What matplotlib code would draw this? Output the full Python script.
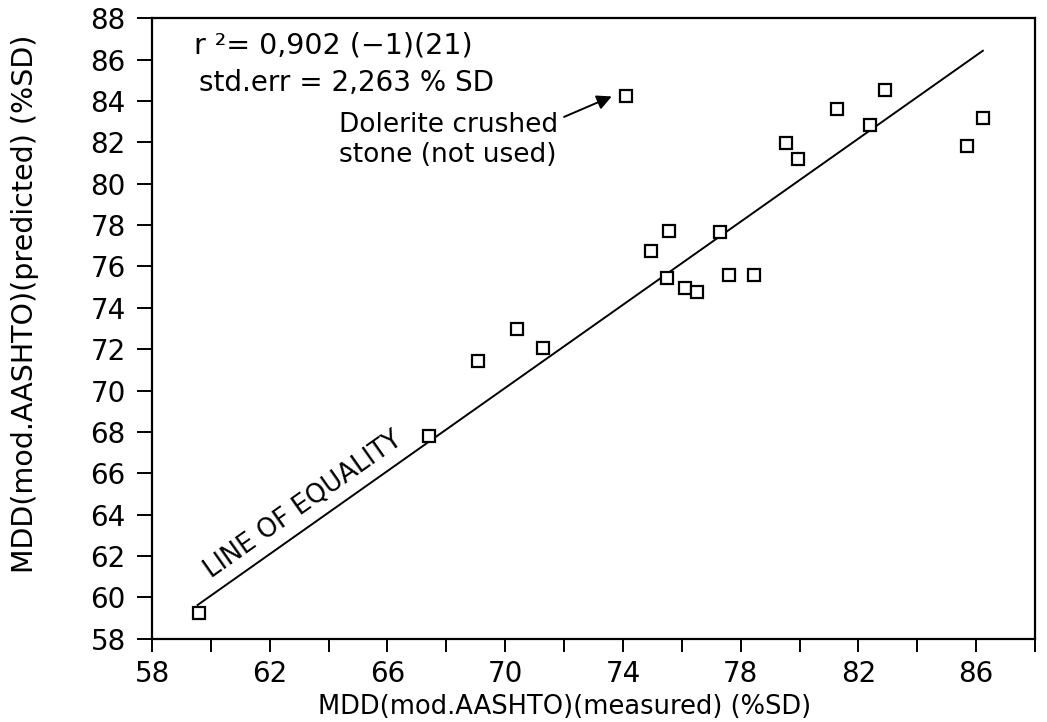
import matplotlib
matplotlib.use("Agg")
import matplotlib.pyplot as plt

plt.rcParams['font.family'] = ['DejaVu Sans']

# measured (x) vs predicted (y) MDD, %SD
measured = [59.58, 67.40, 69.09, 70.40, 71.30, 74.09, 74.97, 75.55, 75.50, 76.11,
            76.50, 77.29, 77.59, 78.47, 79.55, 79.94, 81.26, 82.38, 82.91, 85.69, 86.22]
predicted = [59.26, 67.80, 71.44, 72.99, 72.07, 84.24, 76.75, 77.71, 75.43, 74.94,
             74.77, 77.65, 75.60, 75.57, 81.96, 81.21, 83.61, 82.86, 84.53, 81.84, 83.16]

line_x = [59.55, 86.23]
line_y = [59.63, 86.43]

x_ticks = [58, 60, 62, 64, 66, 68, 70, 72, 74, 76, 78, 80, 82, 84, 86, 88]
x_tick_labels = ['58', '', '62', '', '66', '', '70', '', '74', '', '78', '', '82', '', '86', '']
y_ticks = [58, 60, 62, 64, 66, 68, 70, 72, 74, 76, 78, 80, 82, 84, 86, 88]
y_tick_labels = [str(v) for v in y_ticks]

fig = plt.figure(figsize=(10.47, 7.22), dpi=100)
ax = fig.add_axes([0.1452, 0.1154, 0.8433, 0.8593])

ax.plot(line_x, line_y, color='black', lw=1.4, zorder=2)
ax.plot(measured, predicted, linestyle='none', marker='s', markersize=8.5,
        markerfacecolor='white', markeredgecolor='black', markeredgewidth=1.6, zorder=3)

ax.set_xlim(58, 88)
ax.set_ylim(58, 88)
ax.set_xticks(x_ticks)
ax.set_xticklabels(x_tick_labels)
ax.set_yticks(y_ticks)
ax.set_yticklabels(y_tick_labels)
ax.tick_params(axis='both', direction='out', width=1.4, labelsize=20, colors='black')
ax.tick_params(axis='x', length=9, pad=6)
ax.tick_params(axis='y', length=11, pad=8)
for s in ax.spines.values():
    s.set_linewidth(1.6)

ax.set_xlabel('MDD(mod.AASHTO)(measured) (%SD)', fontsize=18.5)
ax.set_ylabel('MDD(mod.AASHTO)(predicted) (%SD)', fontsize=20.5)
ax.xaxis.label.set_va('center')
ax.yaxis.label.set_va('center')
ax.xaxis.set_label_coords(0.4671, -0.110)
ax.yaxis.set_label_coords(-0.1438, 0.540)

ax.text(59.44, 86.32, 'r \u00b2= 0,902 (\u22121)(21)', fontsize=20.5, va='baseline', ha='left')
ax.text(59.6, 84.5, 'std.err = 2,263 % SD', fontsize=20, va='baseline', ha='left')
ax.text(64.35, 82.52, 'Dolerite crushed', fontsize=19, va='baseline', ha='left')
ax.text(64.35, 81.04, 'stone (not used)', fontsize=19, va='baseline', ha='left')
ax.annotate('', xy=(73.62, 84.22), xytext=(72.0, 83.23),
            arrowprops=dict(arrowstyle='-|>', color='black', lw=1.4,
                            mutation_scale=22, shrinkA=0, shrinkB=0))

ax.text(63.13, 64.47, 'LINE OF EQUALITY', fontsize=18.5, rotation=35.2,
        ha='center', va='center', rotation_mode='anchor')

fig.savefig('out.png', dpi=100, facecolor='white')
